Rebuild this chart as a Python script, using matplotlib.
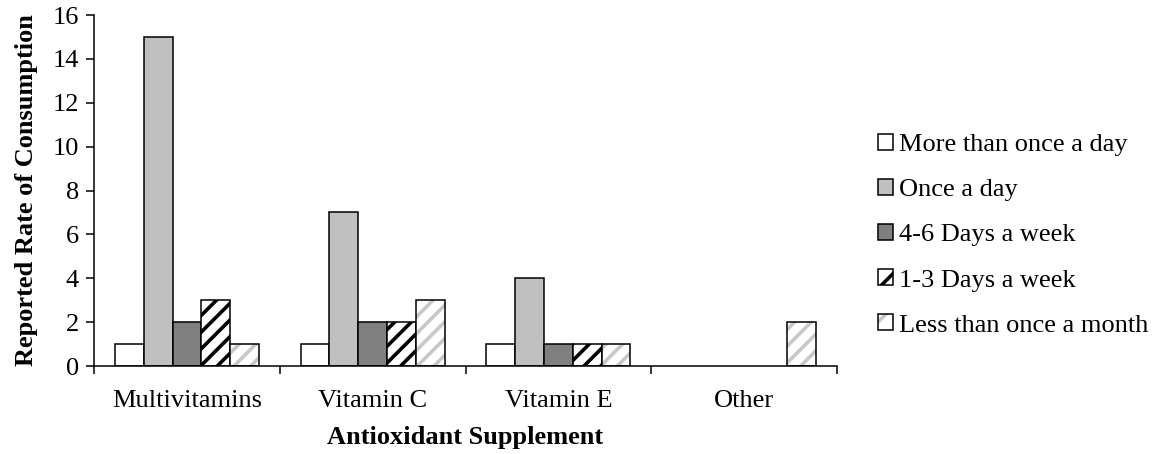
import matplotlib
matplotlib.use("Agg")
import matplotlib.pyplot as plt
import numpy as np
from matplotlib.patches import Patch
from matplotlib.legend_handler import HandlerTuple

categories = ["Multivitamins", "Vitamin C", "Vitamin E", "Other"]
series_names = ["More than once a day", "Once a day", "4-6 Days a week",
                "1-3 Days a week", "Less than once a month"]
more_than_once_a_day = [1, 1, 1, 0]
once_a_day = [15, 7, 4, 0]
days_4_6 = [2, 2, 1, 0]
days_1_3 = [3, 2, 1, 0]
less_than_once_a_month = [1, 3, 1, 2]
y_ticks = [0, 2, 4, 6, 8, 10, 12, 14, 16]

series_values = [more_than_once_a_day, once_a_day, days_4_6, days_1_3, less_than_once_a_month]
# (face color, hatch, hatch color)
styles = [("white", None, None),
          ("#c0c0c0", None, None),
          ("#808080", None, None),
          ("white", "//", "black"),
          ("white", "//", "#c8c8c8")]

FS = 19
plt.rcParams['font.family'] = ['Liberation Serif', 'DejaVu Serif']
plt.rcParams['hatch.linewidth'] = 2.6

fig = plt.figure(figsize=(11.58, 4.54), dpi=100)
ax = fig.add_axes([0.0812, 0.1938, 0.6416, 0.773])

x = np.arange(len(categories))
w = 0.155
handles = []
for i, (name, vals, (fc, hatch, hc)) in enumerate(zip(series_names, series_values, styles)):
    pos = x + (i - 2) * w
    vals = np.array(vals, dtype=float)
    mask = vals > 0
    if hatch:
        ax.bar(pos[mask], vals[mask], width=w, color=fc, edgecolor=hc, hatch=hatch, linewidth=0)
        ax.bar(pos[mask], vals[mask], width=w, fill=False, edgecolor="black", linewidth=1.1)
        h = (Patch(facecolor=fc, edgecolor=hc, hatch="/", linewidth=0),
             Patch(fill=False, edgecolor="black", linewidth=1.1))
    else:
        ax.bar(pos[mask], vals[mask], width=w, color=fc, edgecolor="black", linewidth=1.1)
        h = (Patch(facecolor=fc, edgecolor="black", linewidth=1.1),)
    handles.append(h)

ax.set_xlim(-0.5, len(categories) - 0.5)
ax.set_ylim(0, 16)
ax.set_yticks(y_ticks)
ax.set_xticks(np.arange(len(categories) + 1) - 0.5)
ax.set_xticklabels([])
ax.set_xticks(x, minor=True)
ax.set_xticklabels(categories, minor=True)
ax.tick_params(axis='x', which='minor', length=0, pad=17, labelsize=FS)
ax.tick_params(axis='x', which='major', length=6, width=1.1, direction='out')
ax.tick_params(axis='y', length=6, width=1.1, direction='out', labelsize=FS, pad=5)
for s in ["top", "right"]:
    ax.spines[s].set_visible(False)
for s in ["left", "bottom"]:
    ax.spines[s].set_linewidth(1.1)

ax.set_xlabel("Antioxidant Supplement", fontsize=FS, fontweight='bold', labelpad=10)
ax.set_ylabel("Reported Rate of Consumption", fontsize=FS, fontweight='bold', labelpad=10)

fig.legend(handles, series_names, handler_map={tuple: HandlerTuple(ndivide=1, pad=0)},
           loc='center left', bbox_to_anchor=(0.758, 0.482), frameon=False,
           fontsize=FS, handlelength=0.57, handleheight=0.57, handletextpad=0.25,
           labelspacing=0.86, borderpad=0, borderaxespad=0)

fig.savefig("out.png", dpi=100)
